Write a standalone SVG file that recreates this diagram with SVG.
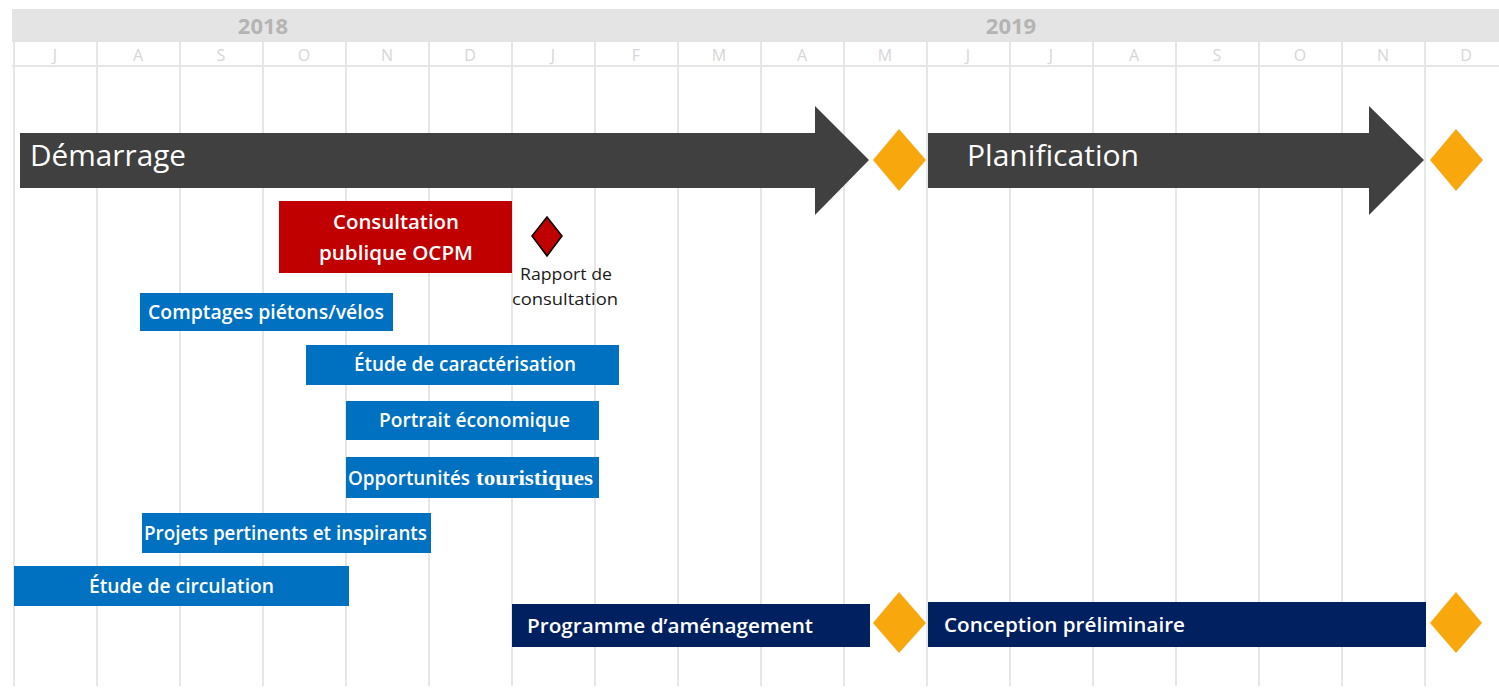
<svg xmlns="http://www.w3.org/2000/svg" width="1499" height="688" viewBox="0 0 1499 688">
  <style>
    .grid { stroke: #e6e6e6; stroke-width: 2; }
    .year { font-family: "Open Sans", "Liberation Sans", sans-serif; font-weight: 700; font-size: 22px; fill: #b4b4b4; text-anchor: middle; }
    .month { font-family: "Open Sans", "Liberation Sans", sans-serif; font-size: 16px; fill: #d6d6d6; text-anchor: middle; }
    .phase { font-family: "Open Sans", "Liberation Sans", sans-serif; font-weight: 500; font-size: 30px; fill: #ffffff; }
    .bar-label { font-family: "Open Sans", "Liberation Sans", sans-serif; font-weight: 600; font-size: 19px; fill: #ffffff; }
    .note { font-family: "Open Sans", "Liberation Sans", sans-serif; font-size: 16px; fill: #1a1a1a; text-anchor: middle; }
    .blue { fill: #0070c0; }
    .navy { fill: #002060; }
    .red { fill: #c00000; }
    .dark { fill: #404040; }
    .milestone { fill: #f8a80c; }
  </style>

  <rect width="1499" height="688" fill="#ffffff"/>

  <!-- timeline header -->
  <g id="header">
    <rect x="12" y="9" width="1487" height="33" fill="#e4e4e4"/>
    <text class="year" x="263" y="34">2018</text>
    <text class="year" x="1011" y="34">2019</text>
    <line class="grid" x1="12" y1="66" x2="1499" y2="66"/>
    <g>
      <text class="month" x="55" y="61">J</text>
      <text class="month" x="138" y="61">A</text>
      <text class="month" x="221" y="61">S</text>
      <text class="month" x="304" y="61">O</text>
      <text class="month" x="387" y="61">N</text>
      <text class="month" x="470" y="61">D</text>
      <text class="month" x="553" y="61">J</text>
      <text class="month" x="636" y="61">F</text>
      <text class="month" x="719" y="61">M</text>
      <text class="month" x="802" y="61">A</text>
      <text class="month" x="885" y="61">M</text>
      <text class="month" x="968" y="61">J</text>
      <text class="month" x="1051" y="61">J</text>
      <text class="month" x="1134" y="61">A</text>
      <text class="month" x="1217" y="61">S</text>
      <text class="month" x="1300" y="61">O</text>
      <text class="month" x="1383" y="61">N</text>
      <text class="month" x="1466" y="61">D</text>
    </g>
  </g>

  <!-- month grid -->
  <g id="grid">
    <line class="grid" x1="14" y1="42" x2="14" y2="686" stroke-width="3"/>
    <line class="grid" x1="97" y1="42" x2="97" y2="686"/>
    <line class="grid" x1="180" y1="42" x2="180" y2="686"/>
    <line class="grid" x1="263" y1="42" x2="263" y2="686"/>
    <line class="grid" x1="346" y1="42" x2="346" y2="686"/>
    <line class="grid" x1="429" y1="42" x2="429" y2="686"/>
    <line class="grid" x1="512" y1="42" x2="512" y2="686" stroke-width="3"/>
    <line class="grid" x1="595" y1="42" x2="595" y2="686"/>
    <line class="grid" x1="678" y1="42" x2="678" y2="686"/>
    <line class="grid" x1="761" y1="42" x2="761" y2="686"/>
    <line class="grid" x1="844" y1="42" x2="844" y2="686"/>
    <line class="grid" x1="927" y1="42" x2="927" y2="686"/>
    <line class="grid" x1="1010" y1="42" x2="1010" y2="686"/>
    <line class="grid" x1="1093" y1="42" x2="1093" y2="686"/>
    <line class="grid" x1="1176" y1="42" x2="1176" y2="686"/>
    <line class="grid" x1="1259" y1="42" x2="1259" y2="686"/>
    <line class="grid" x1="1342" y1="42" x2="1342" y2="686"/>
    <line class="grid" x1="1425" y1="42" x2="1425" y2="686"/>
  </g>

  <!-- phases -->
  <g id="demarrage">
    <polygon class="dark" points="20,133 815,133 815,106 869,160 815,215 815,188 20,188"/>
    <text class="phase" x="30" y="166" textLength="156" lengthAdjust="spacingAndGlyphs">Démarrage</text>
  </g>
  <g id="jalon-demarrage">
    <polygon class="milestone" points="899,129 926,160 899,191 873,160"/>
  </g>
  <g id="planification">
    <polygon class="dark" points="928,133 1369,133 1369,106 1424,160 1369,215 1369,188 928,188"/>
    <text class="phase" x="967" y="166" textLength="172" lengthAdjust="spacingAndGlyphs">Planification</text>
  </g>
  <g id="jalon-planification">
    <polygon class="milestone" points="1456,129 1483,160 1456,191 1430,160"/>
  </g>

  <!-- public consultation -->
  <g id="consultation-ocpm">
    <rect class="red" x="279" y="201" width="233" height="72"/>
    <text class="bar-label" x="396" y="229" text-anchor="middle" font-size="20" textLength="126" lengthAdjust="spacingAndGlyphs">Consultation</text>
    <text class="bar-label" x="396" y="260" text-anchor="middle" font-size="20" textLength="154" lengthAdjust="spacingAndGlyphs">publique OCPM</text>
  </g>
  <g id="rapport-consultation">
    <polygon class="red" points="547,217 562,236 547,256 532,236" stroke="#000000" stroke-width="1.5" stroke-linejoin="miter"/>
    <text class="note" x="566" y="280" textLength="92" lengthAdjust="spacingAndGlyphs">Rapport de</text>
    <text class="note" x="565" y="305" textLength="106" lengthAdjust="spacingAndGlyphs">consultation</text>
  </g>

  <!-- studies -->
  <g id="comptages">
    <rect class="blue" x="140" y="293" width="253" height="38"/>
    <text class="bar-label" x="148" y="319" textLength="236" lengthAdjust="spacingAndGlyphs">Comptages piétons/vélos</text>
  </g>
  <g id="caracterisation">
    <rect class="blue" x="306" y="345" width="313" height="40"/>
    <text class="bar-label" x="354" y="371" textLength="222" lengthAdjust="spacingAndGlyphs">Étude de caractérisation</text>
  </g>
  <g id="portrait-economique">
    <rect class="blue" x="346" y="401" width="253" height="39"/>
    <text class="bar-label" x="379" y="427" textLength="191" lengthAdjust="spacingAndGlyphs">Portrait économique</text>
  </g>
  <g id="opportunites-touristiques">
    <rect class="blue" x="346" y="457" width="253" height="41"/>
    <text class="bar-label" x="348" y="485" textLength="122" lengthAdjust="spacingAndGlyphs">Opportunités</text>
    <text x="476" y="485" font-family="'Liberation Serif', 'DejaVu Serif', serif" font-weight="700" font-size="20" fill="#ffffff" textLength="117" lengthAdjust="spacingAndGlyphs">touristiques</text>
  </g>
  <g id="projets-inspirants">
    <rect class="blue" x="142" y="513" width="289" height="40"/>
    <text class="bar-label" x="144" y="540" textLength="283" lengthAdjust="spacingAndGlyphs">Projets pertinents et inspirants</text>
  </g>
  <g id="etude-circulation">
    <rect class="blue" x="14" y="566" width="335" height="40"/>
    <text class="bar-label" x="89" y="593" textLength="185" lengthAdjust="spacingAndGlyphs">Étude de circulation</text>
  </g>

  <!-- deliverables -->
  <g id="programme-amenagement">
    <rect class="navy" x="512" y="604" width="358" height="43"/>
    <text class="bar-label" x="527" y="633" font-size="21" textLength="286" lengthAdjust="spacingAndGlyphs">Programme d’aménagement</text>
  </g>
  <g id="jalon-programme">
    <polygon class="milestone" points="899,592 926,623 899,653 873,623"/>
  </g>
  <g id="conception-preliminaire">
    <rect class="navy" x="928" y="602" width="498" height="45"/>
    <text class="bar-label" x="944" y="632" font-size="21" textLength="241" lengthAdjust="spacingAndGlyphs">Conception préliminaire</text>
  </g>
  <g id="jalon-conception">
    <polygon class="milestone" points="1456,592 1482,623 1456,653 1430,623"/>
  </g>

  <g id="connectors"/>
</svg>
